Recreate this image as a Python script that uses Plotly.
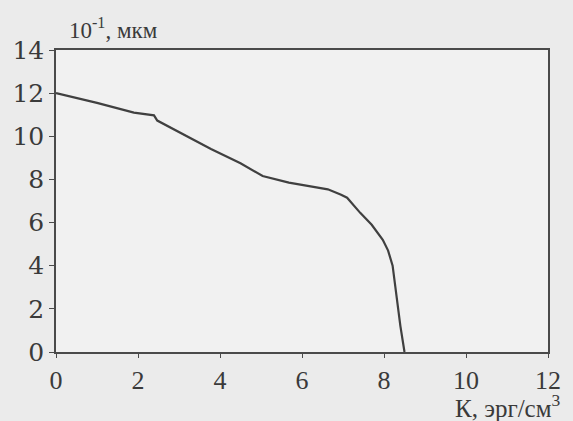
import plotly.graph_objects as go

# Curve
k_values = [0.0, 1.0, 1.9, 2.39, 2.47, 3.0, 3.78, 4.5, 5.04, 5.68, 6.2, 6.63, 6.94, 7.1, 7.42, 7.7, 7.97, 8.1, 8.21, 8.3, 8.4, 8.5]
d_values = [12.0, 11.55, 11.1, 10.97, 10.73, 10.2, 9.41, 8.75, 8.16, 7.85, 7.68, 7.54, 7.30, 7.15, 6.45, 5.9, 5.20, 4.7, 4.0, 2.6, 1.2, 0.0]

x_ticks = [0, 2, 4, 6, 8, 10, 12]
y_ticks = [0, 2, 4, 6, 8, 10, 12, 14]
y_title = "10<sup>-1</sup>, мкм"
x_title = "К, эрг/см<sup>3</sup>"

fig = go.Figure()
fig.add_trace(go.Scatter(x=k_values, y=d_values, mode="lines",
                         line=dict(color="#404040", width=2.2), showlegend=False))

fig.update_layout(
    width=573, height=421,
    margin=dict(l=51, r=18, t=50, b=69),
    paper_bgcolor="#ebebeb",
    plot_bgcolor="#f1f1f1",
    font=dict(family="Liberation Serif", color="#3a3a3a"),
    xaxis=dict(range=[0, 12], tickvals=x_ticks, showgrid=False, zeroline=False,
               showline=True, linecolor="#4a4a4a", linewidth=1.5, mirror=True,
               ticks="outside", ticklen=4, tickcolor="#4a4a4a",
               tickfont=dict(family="Liberation Serif", size=26, color="#3a3a3a")),
    yaxis=dict(range=[0, 14], tickvals=y_ticks, showgrid=False, zeroline=False,
               showline=True, linecolor="#4a4a4a", linewidth=1.5, mirror=True,
               ticks="outside", ticklen=5, tickcolor="#4a4a4a",
               tickfont=dict(family="DejaVu Serif", size=25, color="#3a3a3a")),
    annotations=[
        dict(text=y_title, xref="paper", yref="paper", x=0.022, y=1.07,
             xanchor="left", yanchor="middle", showarrow=False,
             font=dict(family="Liberation Serif", size=23, color="#3a3a3a")),
        dict(text=x_title, xref="paper", yref="paper", x=0.806, y=-0.178,
             xanchor="left", yanchor="middle", showarrow=False,
             font=dict(family="Liberation Serif", size=25, color="#3a3a3a")),
    ],
)

fig.write_html("out.html")
